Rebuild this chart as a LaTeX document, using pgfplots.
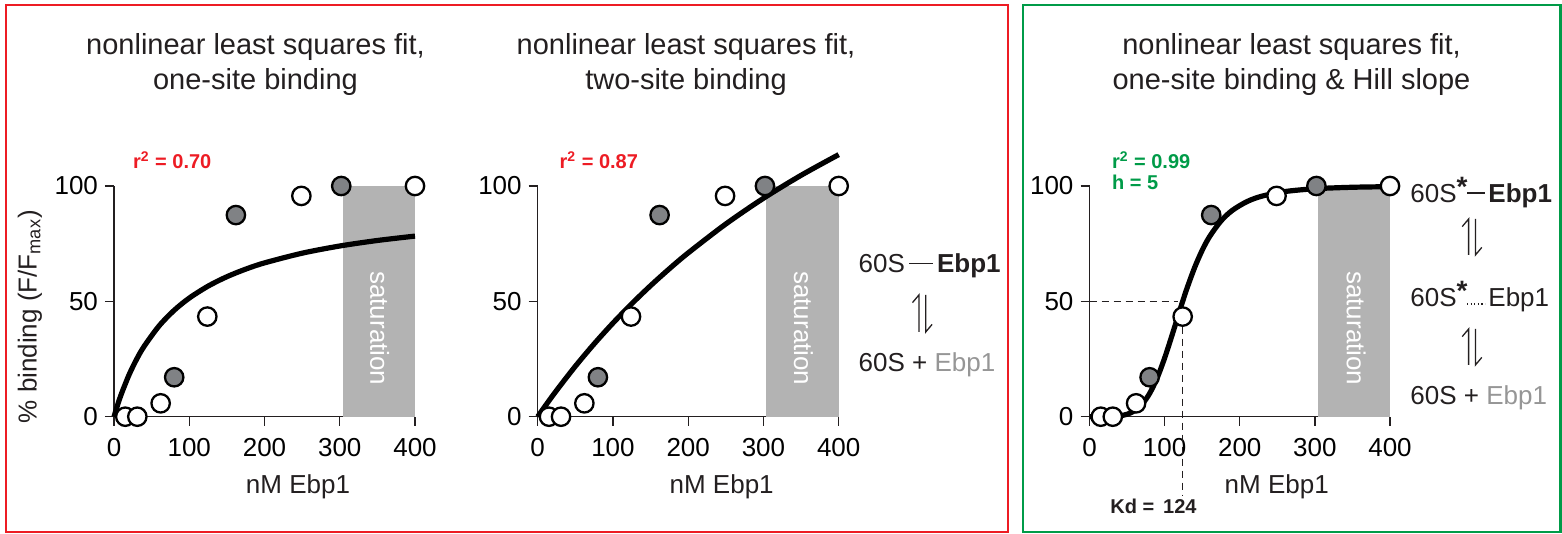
\documentclass[border=0pt]{standalone}
\usepackage{pgfplots}
\pgfplotsset{compat=1.18}
\usepackage{fontspec}
\setmainfont{Liberation Sans}
\definecolor{myred}{RGB}{237,28,36}
\definecolor{mygreen}{RGB}{0,155,72}
\definecolor{txt}{RGB}{35,31,32}
\definecolor{dotgray}{RGB}{128,130,133}
\definecolor{satgray}{RGB}{179,179,179}
\definecolor{lightt}{RGB}{150,150,150}
\newcommand\fA{\fontsize{13}{15.6}\selectfont}
\newcommand\fT{\fontsize{14.5}{17}\selectfont}
\newcommand\fR{\bfseries\fontsize{10}{12}\selectfont}
\newcommand\astr{\raisebox{3pt}{\bfseries\fontsize{14}{14}\selectfont *}}
\pgfplotsset{
  panel/.style={
    scale only axis, width=150.5pt, height=115.35pt,
    xmin=0,xmax=400,ymin=0,ymax=100, clip=false,
    axis x line*=bottom, axis y line*=left,
    axis line style={-, line width=0.65pt, draw=txt},
    xtick={0,100,200,300,400}, ytick={0,50,100},
    tick align=outside, major tick length=4.5pt,
    tick style={line width=0.65pt, draw=txt},
    ticklabel style={font=\fA, text=black},
    xticklabel style={yshift=-3pt},
    /pgf/number format/assume math mode=true,
    anchor=south west,
  },
  opendot/.style={only marks, mark=*, mark size=4.6pt, mark options={fill=white, draw=black, line width=1.15pt}},
  graydot/.style={only marks, mark=*, mark size=4.6pt, mark options={fill=dotgray, draw=black, line width=1.15pt}},
  fitline/.style={line width=2.6pt, black, smooth, no marks},
}
\newcommand\eqarrow[3]{%
  \draw[txt, line width=0.65pt] ({#1-1.7pt},{#3}) -- ({#1-1.7pt},{#2}) -- ({#1-4.9pt},{#2-3.8pt});
  \draw[txt, line width=0.65pt] ({#1+1.7pt},{#2}) -- ({#1+1.7pt},{#3}) -- ({#1+4.9pt},{#3+3.8pt});
}
\begin{document}
\begin{tikzpicture}
\useasboundingbox (0,0) rectangle (781pt,267pt);
\draw[myred, line width=1.25pt] (3pt,1pt) rectangle (504pt,264.5pt);
\draw[mygreen, line width=1.25pt] (511.5pt,1pt) rectangle (780.25pt,264.5pt);
% titles
\node[anchor=base, font=\fT, text=txt] at (127.75pt,239.5pt) {nonlinear least squares fit,};
\node[anchor=base, font=\fT, text=txt] at (127.75pt,222.25pt) {one-site binding};
\node[anchor=base, font=\fT, text=txt] at (343pt,239.5pt) {nonlinear least squares fit,};
\node[anchor=base, font=\fT, text=txt] at (343pt,222.25pt) {two-site binding};
\node[anchor=base, font=\fT, text=txt] at (645.75pt,239.5pt) {nonlinear least squares fit,};
\node[anchor=base, font=\fT, text=txt] at (645.75pt,222.25pt) {one-site binding \& Hill slope};
% r2 labels
\node[anchor=base west, inner sep=0, font=\fR, text=myred] at (66.35pt,182.85pt) {r\textsuperscript{2} = 0.70};
\node[anchor=base west, inner sep=0, font=\fR, text=myred] at (279.65pt,182.85pt) {r\textsuperscript{2} = 0.87};
\node[anchor=base west, inner sep=0, font=\fR, text=mygreen] at (555.8pt,182.85pt) {r\textsuperscript{2} = 0.99};
\node[anchor=base west, inner sep=0, font=\fR, text=mygreen] at (555.8pt,172pt) {h = 5};
\node[anchor=base west, inner sep=0, font=\fR, text=txt] at (555pt,10.35pt) {Kd = \,124};
% y label
\node[rotate=90, font=\fA, text=txt] at (15pt,108.65pt) {\% binding (F/F\textsubscript{max})};
% x labels
\node[anchor=base, font=\fA, text=txt] at (149pt,20pt) {nM Ebp1};
\node[anchor=base, font=\fA, text=txt] at (360.85pt,20pt) {nM Ebp1};
\node[anchor=base, font=\fA, text=txt] at (638.35pt,20pt) {nM Ebp1};

% ---------- panel 1
\begin{axis}[panel, at={(57pt,58.65pt)}]
\addplot[fill=satgray, draw=none] coordinates {(304,100) (400,100)} \closedcycle;
\node[rotate=-90, text=white, font=\fA] at (axis cs:353,38.3) {saturation};
\addplot[fitline] coordinates {(0,0) (5,5.30) (10,10.04) (20,18.16) (30,24.86) (40,30.48) (60,39.39) (80,46.13) (100,51.41) (125,56.59) (150,60.67) (175,63.96) (200,66.67) (250,70.87) (300,73.99) (350,76.38) (400,78.28)};
\addplot[opendot] coordinates {(15,0) (31,0) (62,5.8) (124,43.4) (249,95.7) (400,100)};
\addplot[graydot] coordinates {(80,17.1) (162,87.4) (302,100)};
\end{axis}

% ---------- panel 2
\begin{axis}[panel, at={(268.85pt,58.65pt)}]
\addplot[fill=satgray, draw=none] coordinates {(304,100) (400,100)} \closedcycle;
\node[rotate=-90, text=white, font=\fA] at (axis cs:353,38.3) {saturation};
\addplot[fitline] coordinates {(0,0) (10,4.66) (25,11.36) (50,21.85) (75,31.56) (100,40.57) (125,48.97) (150,56.80) (175,64.13) (200,71.00) (250,83.53) (300,94.67) (350,104.63) (400,113.60)};
\addplot[opendot] coordinates {(15,0) (31,0) (62,5.8) (124,43.4) (249,95.7) (400,100)};
\addplot[graydot] coordinates {(80,17.1) (162,87.4) (302,100)};
\end{axis}

% ---------- panel 3
\begin{axis}[panel, at={(544.75pt,58.65pt)}, width=150.25pt]
\addplot[fill=satgray, draw=none] coordinates {(304,100) (400,100)} \closedcycle;
\node[rotate=-90, text=white, font=\fA] at (axis cs:355,38.3) {saturation};
\addplot[txt, line width=0.65pt, dash pattern=on 3.5pt off 2.5pt] coordinates {(0,50) (118,50)};
\addplot[txt, line width=0.65pt, dash pattern=on 3.5pt off 2.5pt] coordinates {(124,39) (124,-34)};
\addplot[fitline] coordinates {(0,0) (20,0.01) (30,0.08) (40,0.35) (50,1.05) (60,2.58) (70,5.42) (80,10.06) (90,16.76) (100,25.44) (110,35.46) (120,45.91) (124,50) (130,55.88) (140,64.72) (150,72.15) (160,78.15) (175,84.85) (190,89.41) (210,93.30) (230,95.64) (260,97.59) (300,98.81) (350,99.45) (400,99.71)};
\addplot[opendot] coordinates {(15,0) (31,0) (62,5.8) (124,43.4) (249,95.7) (400,100)};
\addplot[graydot] coordinates {(80,17.1) (162,87.4) (302,100)};
\end{axis}

% ---------- scheme panel 2
\node[anchor=base west, inner sep=0, font=\fA, text=txt] at (429.15pt,130.65pt) {60S};
\draw[txt, line width=0.7pt] (454.5pt,135.35pt) -- (466.5pt,135.35pt);
\node[anchor=base west, inner sep=0, font=\fA, text=txt] at (468.35pt,130.65pt) {\bfseries Ebp1};
\eqarrow{461.15pt}{119.5pt}{101pt}
\node[anchor=base west, inner sep=0, font=\fA, text=txt] at (429.15pt,81pt) {60S + \textcolor{lightt}{Ebp1}};

% ---------- scheme panel 3
\node[anchor=base west, inner sep=0, font=\fA, text=txt] at (705pt,165.75pt) {60S\astr};
\draw[txt, line width=0.7pt] (733.5pt,170.5pt) -- (742.5pt,170.5pt);
\node[anchor=base west, inner sep=0, font=\fA, text=txt] at (744pt,165.75pt) {\bfseries Ebp1};
\eqarrow{736pt}{157.5pt}{139.5pt}
\node[anchor=base west, inner sep=0, font=\fA, text=txt] at (705pt,113.6pt) {60S\astr};
\draw[txt, line width=0.6pt, dash pattern=on 0.6pt off 1.2pt] (733.5pt,115pt) -- (742.5pt,115pt);
\node[anchor=base west, inner sep=0, font=\fA, text=txt] at (744pt,113.6pt) {Ebp1};
\eqarrow{736pt}{102.5pt}{84.5pt}
\node[anchor=base west, inner sep=0, font=\fA, text=txt] at (705pt,64.85pt) {60S + \textcolor{lightt}{Ebp1}};
\end{tikzpicture}
\end{document}
